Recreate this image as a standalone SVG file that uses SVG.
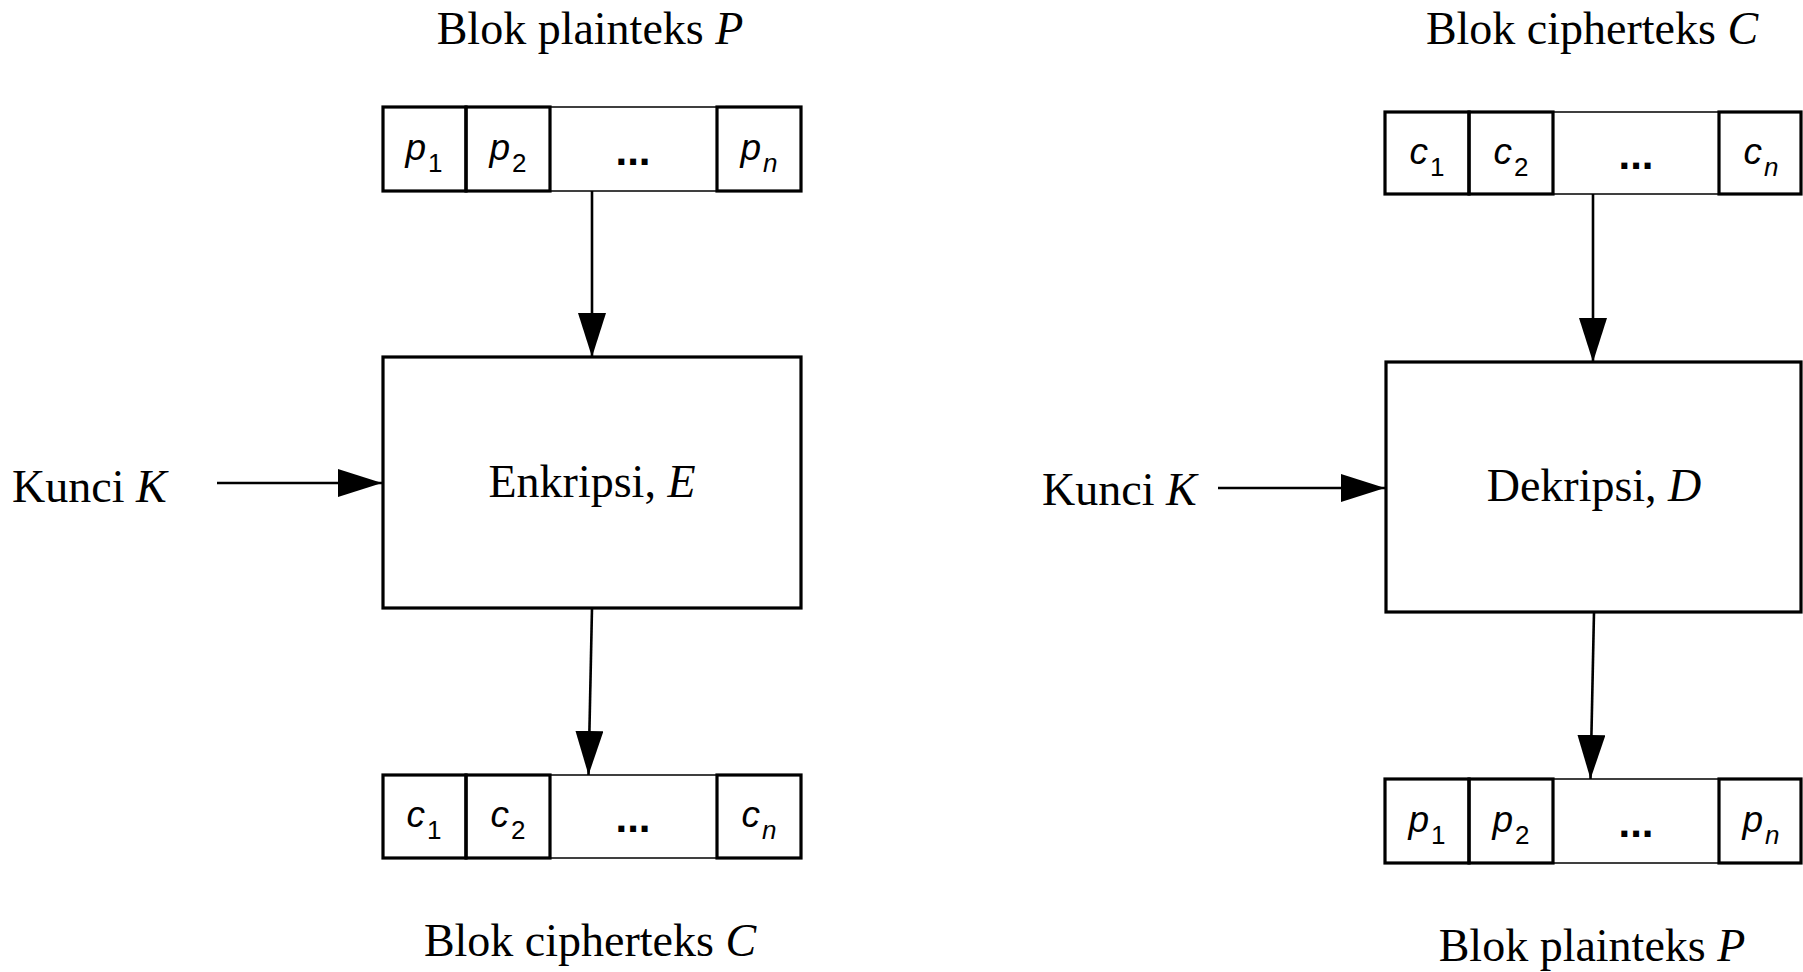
<svg xmlns="http://www.w3.org/2000/svg" width="1803" height="972" viewBox="0 0 1803 972">
<style>
.serif{font-family:"Liberation Serif","Times New Roman",serif;font-size:46px;fill:#000}
.sans{font-family:"Liberation Sans",Arial,sans-serif;font-size:37px;fill:#000}
.sub{font-size:26px}
.it{font-style:italic}
.dots{font-weight:bold;font-size:42px}
.thick{fill:none;stroke:#000;stroke-width:3.2}
.thin{fill:#fff;stroke:#000;stroke-width:1.5}
.box{fill:#fff;stroke:#000;stroke-width:3.2}
.conn{fill:none;stroke:#000;stroke-width:2.6}
</style>
<defs>
<marker id="ah" markerUnits="userSpaceOnUse" markerWidth="46" markerHeight="30" refX="44" refY="14" orient="auto" viewBox="0 0 46 30">
<path d="M0,0 L44,14 L0,28 z" fill="#000"/>
</marker>
</defs>
<rect width="1803" height="972" fill="#fff"/>

<g id="connectors">
<line class="conn" x1="592" y1="191" x2="592" y2="357" marker-end="url(#ah)"/>
<line class="conn" x1="592" y1="608" x2="588.5" y2="775" marker-end="url(#ah)"/>
<line class="conn" x1="217" y1="483" x2="382" y2="483" marker-end="url(#ah)"/>
<line class="conn" x1="1593" y1="194" x2="1593" y2="362" marker-end="url(#ah)"/>
<line class="conn" x1="1594" y1="612" x2="1590.5" y2="779" marker-end="url(#ah)"/>
<line class="conn" x1="1218" y1="488" x2="1385" y2="488" marker-end="url(#ah)"/>
</g>

<g id="label-plain-top">
<text class="serif" x="590" y="44" text-anchor="middle">Blok plainteks <tspan class="it">P</tspan></text>
</g>

<g id="plain-block-top">
<rect class="thin" x="383" y="107" width="418" height="84"/>
<rect class="thick" x="383" y="107" width="83" height="84"/>
<rect class="thick" x="466" y="107" width="84" height="84"/>
<rect class="thick" x="717" y="107" width="84" height="84"/>
<text class="sans" x="424" y="160" text-anchor="middle"><tspan class="it">p</tspan><tspan class="sub" dy="12" dx="2">1</tspan></text>
<text class="sans" x="508" y="160" text-anchor="middle"><tspan class="it">p</tspan><tspan class="sub" dy="12" dx="2">2</tspan></text>
<text class="sans dots" x="633" y="165" text-anchor="middle">...</text>
<text class="sans" x="759" y="160" text-anchor="middle"><tspan class="it">p</tspan><tspan class="sub it" dy="12" dx="2">n</tspan></text>
</g>

<g id="enkripsi">
<rect class="box" x="383" y="357" width="418" height="251"/>
<text class="serif" x="592" y="497" text-anchor="middle">Enkripsi, <tspan class="it">E</tspan></text>
</g>

<g id="kunci-left">
<text class="serif" x="12" y="502">Kunci <tspan class="it">K</tspan></text>
</g>

<g id="cipher-block-bottom">
<rect class="thin" x="383" y="775" width="418" height="83"/>
<rect class="thick" x="383" y="775" width="83" height="83"/>
<rect class="thick" x="466" y="775" width="84" height="83"/>
<rect class="thick" x="717" y="775" width="84" height="83"/>
<text class="sans" x="424" y="827" text-anchor="middle"><tspan class="it">c</tspan><tspan class="sub" dy="12" dx="2">1</tspan></text>
<text class="sans" x="508" y="827" text-anchor="middle"><tspan class="it">c</tspan><tspan class="sub" dy="12" dx="2">2</tspan></text>
<text class="sans dots" x="633" y="832" text-anchor="middle">...</text>
<text class="sans" x="759" y="827" text-anchor="middle"><tspan class="it">c</tspan><tspan class="sub it" dy="12" dx="2">n</tspan></text>
</g>

<g id="label-cipher-bottom">
<text class="serif" x="590" y="956" text-anchor="middle">Blok cipherteks <tspan class="it">C</tspan></text>
</g>

<g id="label-cipher-top">
<text class="serif" x="1592" y="44" text-anchor="middle">Blok cipherteks <tspan class="it">C</tspan></text>
</g>

<g id="cipher-block-top">
<rect class="thin" x="1385" y="112" width="416" height="82"/>
<rect class="thick" x="1385" y="112" width="84" height="82"/>
<rect class="thick" x="1469" y="112" width="84" height="82"/>
<rect class="thick" x="1719" y="112" width="82" height="82"/>
<text class="sans" x="1427" y="164" text-anchor="middle"><tspan class="it">c</tspan><tspan class="sub" dy="12" dx="2">1</tspan></text>
<text class="sans" x="1511" y="164" text-anchor="middle"><tspan class="it">c</tspan><tspan class="sub" dy="12" dx="2">2</tspan></text>
<text class="sans dots" x="1636" y="169" text-anchor="middle">...</text>
<text class="sans" x="1761" y="164" text-anchor="middle"><tspan class="it">c</tspan><tspan class="sub it" dy="12" dx="2">n</tspan></text>
</g>

<g id="dekripsi">
<rect class="box" x="1386" y="362" width="415" height="250"/>
<text class="serif" x="1594" y="501" text-anchor="middle">Dekripsi, <tspan class="it">D</tspan></text>
</g>

<g id="kunci-right">
<text class="serif" x="1042" y="505">Kunci <tspan class="it">K</tspan></text>
</g>

<g id="plain-block-bottom">
<rect class="thin" x="1385" y="779" width="416" height="84"/>
<rect class="thick" x="1385" y="779" width="84" height="84"/>
<rect class="thick" x="1469" y="779" width="84" height="84"/>
<rect class="thick" x="1719" y="779" width="82" height="84"/>
<text class="sans" x="1427" y="832" text-anchor="middle"><tspan class="it">p</tspan><tspan class="sub" dy="12" dx="2">1</tspan></text>
<text class="sans" x="1511" y="832" text-anchor="middle"><tspan class="it">p</tspan><tspan class="sub" dy="12" dx="2">2</tspan></text>
<text class="sans dots" x="1636" y="837" text-anchor="middle">...</text>
<text class="sans" x="1761" y="832" text-anchor="middle"><tspan class="it">p</tspan><tspan class="sub it" dy="12" dx="2">n</tspan></text>
</g>

<g id="label-plain-bottom">
<text class="serif" x="1592" y="961" text-anchor="middle">Blok plainteks <tspan class="it">P</tspan></text>
</g>
</svg>
